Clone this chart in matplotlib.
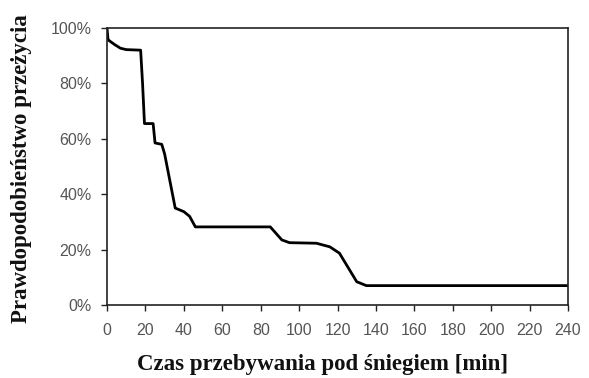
import matplotlib
matplotlib.use("Agg")
import matplotlib.pyplot as plt
from matplotlib.ticker import PercentFormatter

# Survival curve (time in minutes, survival in %)
time_min = [0, 0.5, 1, 4, 7, 10, 17.5, 18.5, 19.5, 24, 25, 28.5, 30, 35.5,
            40, 43, 46, 85, 91, 95, 109, 116, 121, 130, 135, 240]
survival_pct = [100, 96, 95.5, 94, 92.7, 92.2, 92, 80, 65.5, 65.5, 58.5, 58,
                54.5, 35, 33.7, 32, 28.2, 28.2, 23.5, 22.5, 22.3, 21, 18.7,
                8.4, 7, 7]

x_ticks = list(range(0, 241, 20))
y_ticks = [0, 20, 40, 60, 80, 100]
x_label = "Czas przebywania pod śniegiem [min]"
y_label = "Prawdopodobieństwo przeżycia"

fig = plt.figure(figsize=(5.89, 3.78), dpi=100)
ax = fig.add_axes([0.1817, 0.1931, 0.7827, 0.7328])

ax.plot(time_min, survival_pct, color="black", lw=2.0, solid_joinstyle="round")

ax.set_xlim(0, 240)
ax.set_ylim(0, 100)
ax.set_xticks(x_ticks)
ax.set_yticks(y_ticks)
ax.yaxis.set_major_formatter(PercentFormatter(decimals=0))

for s in ax.spines.values():
    s.set_color("#222222")
    s.set_linewidth(1.2)

ax.tick_params(axis="x", direction="out", length=4, width=1.0, pad=9,
               labelsize=11.5, labelcolor="#555555", color="#222222")
ax.tick_params(axis="y", direction="out", length=4, width=1.0, pad=7,
               labelsize=11.5, labelcolor="#555555", color="#222222")
for lab in ax.get_xticklabels() + ax.get_yticklabels():
    lab.set_family("Liberation Sans")

serif = dict(family="Liberation Serif", fontweight="bold", fontsize=16.5,
             color="#111111")
fig.text(0.547, 0.035, x_label, ha="center", va="center", **serif)
fig.text(0.037, 0.555, y_label, ha="center", va="center", rotation=90, **serif)

fig.savefig("out.png", dpi=100, facecolor="white")
